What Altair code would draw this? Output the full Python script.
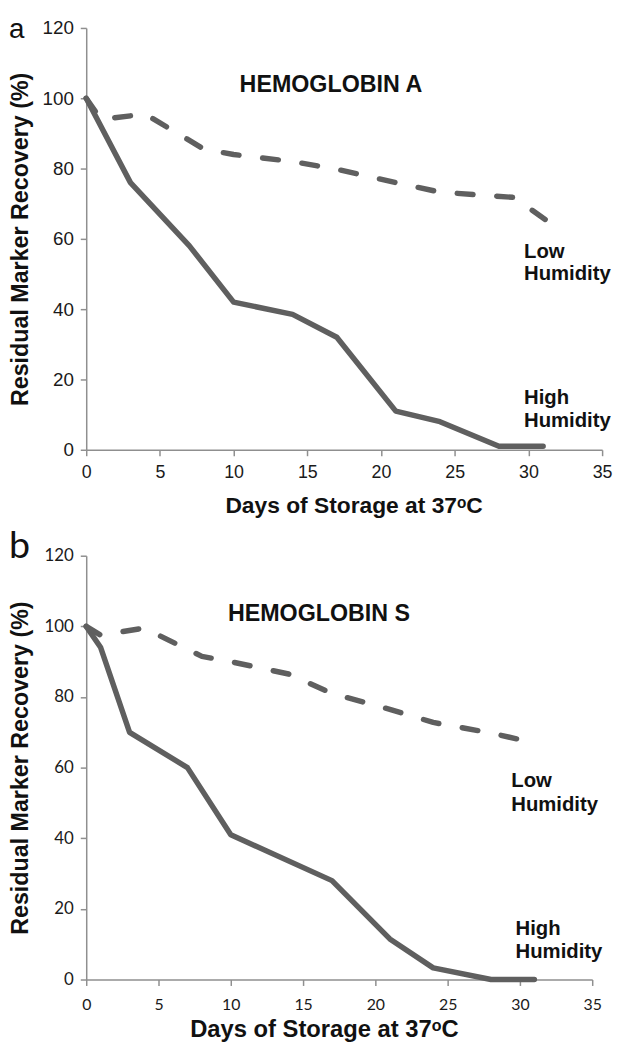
import altair as alt
import pandas as pd

# ---------------- data ----------------
days_a_high = [0, 3, 7, 10, 14, 17, 21, 24, 28, 31]
rec_a_high = [100, 76, 58, 42, 38.5, 32, 11, 8, 1, 1]
days_a_low = [0, 1, 4, 8, 10, 14, 17, 21, 24, 29, 32]
rec_a_low = [100, 94, 95.5, 85.5, 84, 82, 79.8, 76, 73.3, 71.8, 63]

days_b_high = [0, 1, 3, 7, 10, 17, 21, 24, 28, 31]
rec_b_high = [100, 94, 70, 60, 41, 28, 11.5, 3.3, 0, 0]
days_b_low = [0, 1, 4, 8, 10, 14, 17, 21, 24, 28, 31]
rec_b_low = [100, 97.5, 99.5, 91.5, 90, 86.5, 81, 76.5, 72.8, 69.8, 67]

x_ticks = [0, 5, 10, 15, 20, 25, 30, 35]
y_ticks = [0, 20, 40, 60, 80, 100, 120]

# annotation texts with anchor positions in data units
ann_a_text = ["Low", "Humidity", "High", "Humidity"]
ann_a_x = [29.7, 29.7, 29.7, 29.7]
ann_a_y = [54.6, 48.2, 13.0, 6.5]
ann_b_text = ["Low", "Humidity", "High", "Humidity"]
ann_b_x = [29.4, 29.4, 29.7, 29.7]
ann_b_y = [54.4, 47.7, 12.6, 6.2]

head_a = ("HEMOGLOBIN A", 16.6, 101.7)
head_b = ("HEMOGLOBIN S", 16.1, 101.5)

X_TITLE = "Days of Storage at 37ᵒC"
Y_TITLE = "Residual Marker Recovery (%)"

LINE_COLOR = "#5f5f5f"
AXIS_COLOR = "#8f8f8f"


def series_df(days_high, rec_high, days_low, rec_low):
    rows = [{"day": d, "rec": r, "series": "High Humidity"} for d, r in zip(days_high, rec_high)]
    rows += [{"day": d, "rec": r, "series": "Low Humidity"} for d, r in zip(days_low, rec_low)]
    return pd.DataFrame(rows)


def panel(df, head, ann_text, ann_x, ann_y, letter, w, h, tick_font, tick_size,
          x_label_pad, x_title_size, x_title_x, x_title_y, letter_size, letter_font,
          letter_y):
    x_axis = alt.Axis(
        values=x_ticks, grid=False, tickSize=6, tickWidth=1.5, tickColor=AXIS_COLOR,
        domainColor=AXIS_COLOR, domainWidth=1.5, labelFont=tick_font,
        labelFontSize=tick_size, labelColor="#1a1a1a", labelPadding=x_label_pad,
        labelFlush=False, labelOverlap=False,
        title=X_TITLE, titleFont="Liberation Sans", titleFontWeight="bold",
        titleFontSize=x_title_size, titleColor="#111111", titleX=x_title_x,
        titleY=x_title_y, titleBaseline="alphabetic", titleAlign="center",
    )
    y_axis = alt.Axis(
        values=y_ticks, grid=False, tickSize=6, tickWidth=1.5, tickColor=AXIS_COLOR,
        domainColor=AXIS_COLOR, domainWidth=1.5, labelFont=tick_font,
        labelFontSize=tick_size + 1, labelColor="#1a1a1a", labelPadding=7,
        labelFlush=False, labelOverlap=False,
        title=Y_TITLE, titleFont="Liberation Sans", titleFontWeight="bold",
        titleFontSize=23.5, titleColor="#111111", titleX=-59, titleY=h / 2,
        titleBaseline="alphabetic", titleAlign="center", titleAngle=270,
    )
    xs = alt.Scale(domain=[0, 35], nice=False)
    ys = alt.Scale(domain=[0, 120], nice=False)

    base = alt.Chart(df)
    high = base.transform_filter(alt.datum.series == "High Humidity").mark_line(
        color=LINE_COLOR, strokeWidth=5.5, strokeCap="round", strokeJoin="round"
    ).encode(
        x=alt.X("day:Q", scale=xs, axis=x_axis),
        y=alt.Y("rec:Q", scale=ys, axis=y_axis),
    )
    low = base.transform_filter(alt.datum.series == "Low Humidity").mark_line(
        color=LINE_COLOR, strokeWidth=5.5, strokeCap="round", strokeJoin="round",
        strokeDash=[16, 24],
    ).encode(x=alt.X("day:Q", scale=xs), y=alt.Y("rec:Q", scale=ys))

    head_df = pd.DataFrame([{"t": head[0], "x": head[1], "y": head[2]}])
    head_mark = alt.Chart(head_df).mark_text(
        font="Liberation Sans", fontWeight="bold", fontSize=23.5, color="#111111",
        align="center", baseline="alphabetic",
    ).encode(x=alt.X("x:Q", scale=xs), y=alt.Y("y:Q", scale=ys), text="t:N")

    ann_df = pd.DataFrame({"t": ann_text, "x": ann_x, "y": ann_y})
    ann_mark = alt.Chart(ann_df).mark_text(
        font="Liberation Sans", fontWeight="bold", fontSize=20.5, color="#111111",
        align="left", baseline="alphabetic",
    ).encode(x=alt.X("x:Q", scale=xs), y=alt.Y("y:Q", scale=ys), text="t:N")

    letter_df = pd.DataFrame([{"t": letter}])
    letter_mark = alt.Chart(letter_df).mark_text(
        font=letter_font, fontSize=letter_size, color="#111111",
        align="left", baseline="alphabetic",
    ).encode(x=alt.value(-78), y=alt.value(letter_y), text="t:N")

    return alt.layer(high, low, head_mark, ann_mark, letter_mark).properties(
        width=w, height=h
    )


df_a = series_df(days_a_high, rec_a_high, days_a_low, rec_a_low)
df_b = series_df(days_b_high, rec_b_high, days_b_low, rec_b_low)

pa = panel(df_a, head_a, ann_a_text, ann_a_x, ann_a_y, "a", 521, 426,
           "Liberation Sans", 18, 8, 23, 270, 63, 28, "Liberation Sans", 10)
pb = panel(df_b, head_b, ann_b_text, ann_b_x, ann_b_y, "b", 511, 428,
           "Lato", 16, 11, 24, 240, 58, 38, "Lato", 2)

chart = alt.vconcat(pa, pb, spacing=107, bounds="flush").properties(
    padding={"left": 0, "top": 3, "right": 0, "bottom": 0},
    background="white",
).configure_view(stroke=None)

chart.save("out.html", embed_options={"renderer": "svg", "actions": False})
